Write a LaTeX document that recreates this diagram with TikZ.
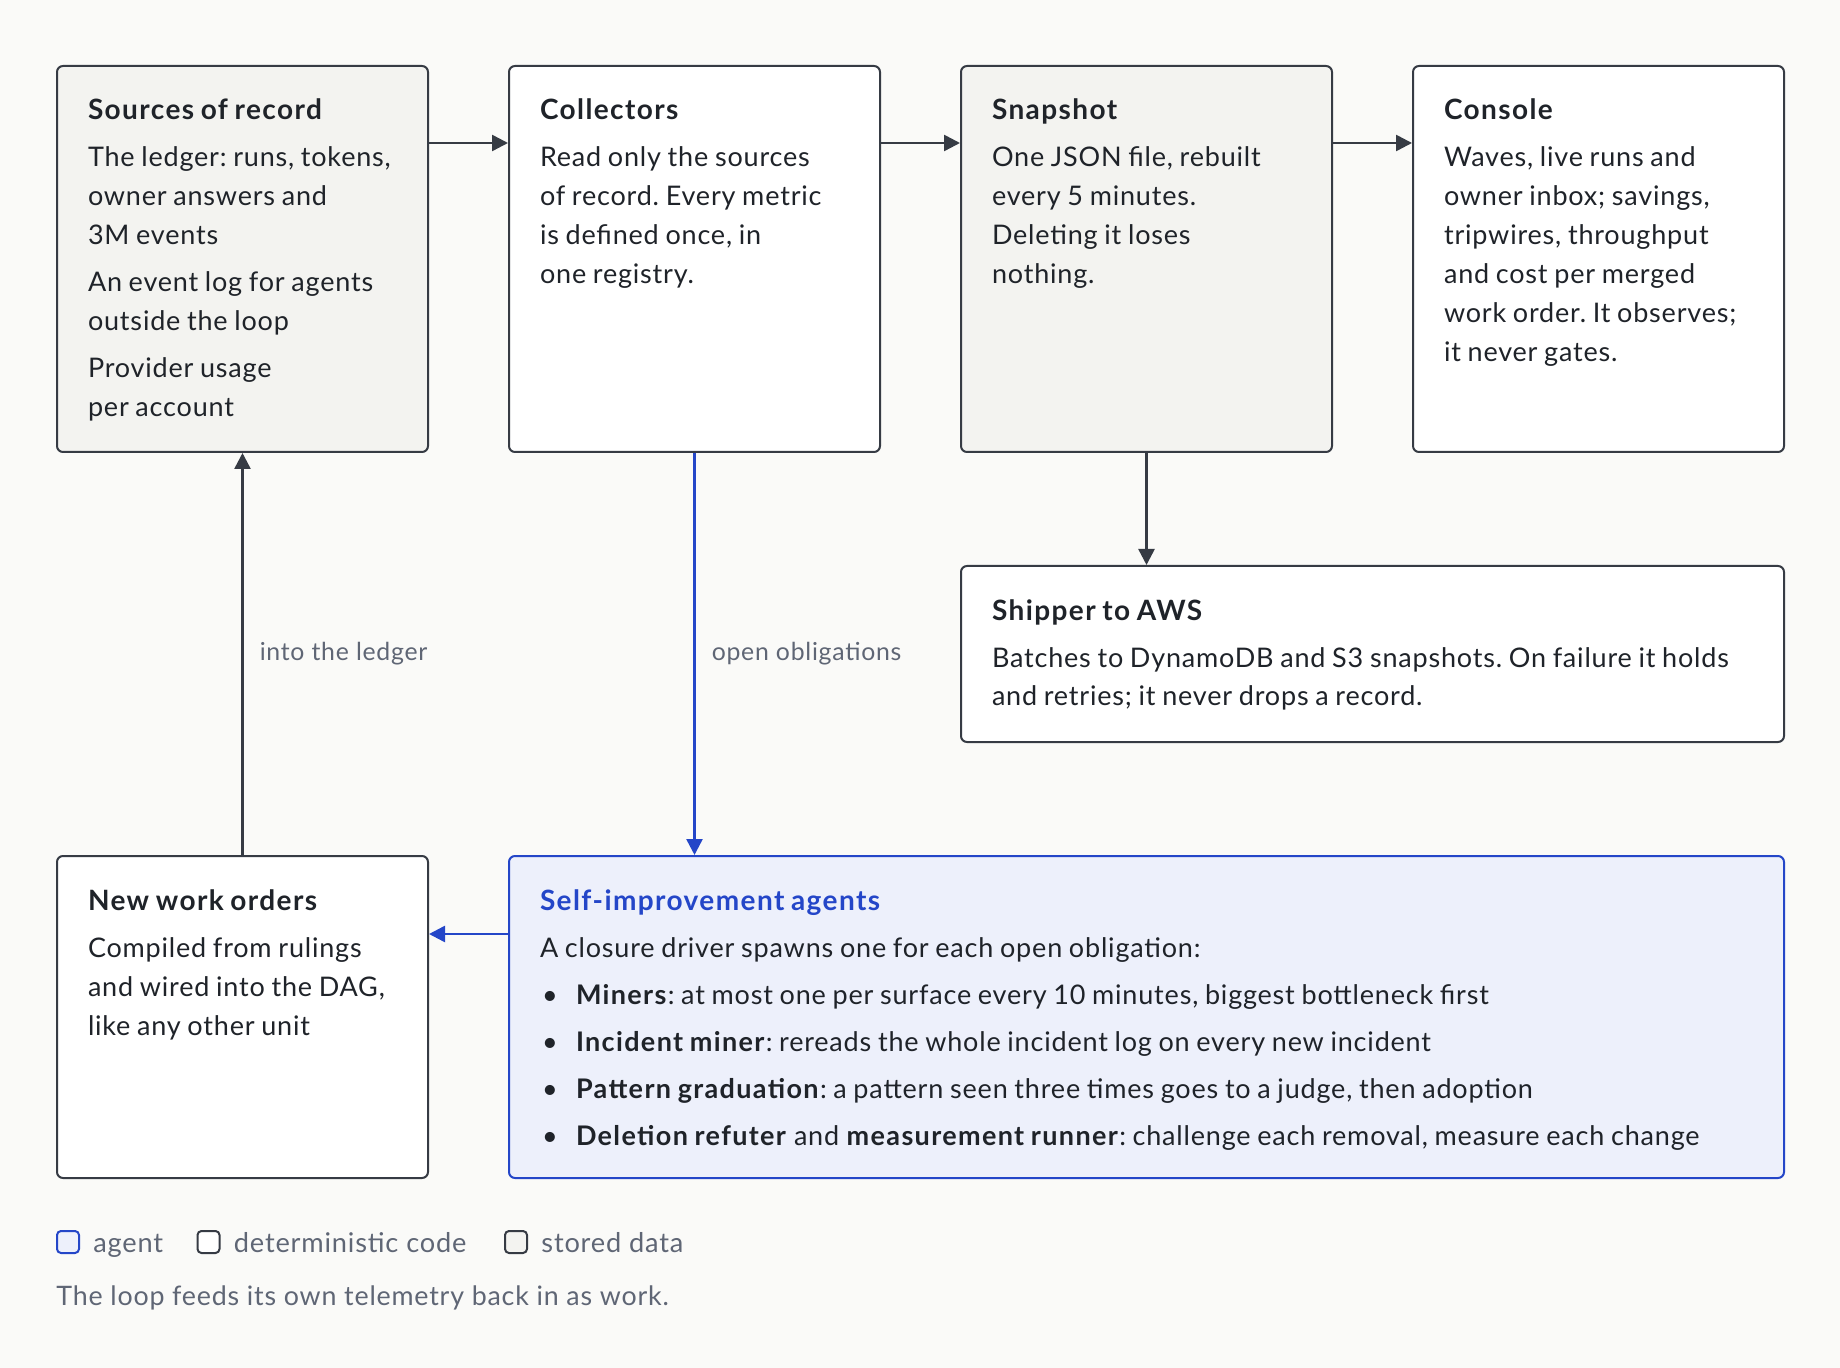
\documentclass[tikz,border=0pt]{standalone}
\usepackage{fontspec}
\setmainfont{Lato}[LetterSpace=3, BoldFeatures={LetterSpace=5}]
\usetikzlibrary{arrows.meta,positioning,calc}
\frenchspacing
\definecolor{paper}{HTML}{FAFAF8}
\definecolor{ink}{HTML}{1F2329}
\definecolor{edge}{HTML}{363B44}
\definecolor{stored}{HTML}{F3F3F0}
\definecolor{agentblue}{HTML}{2446C8}
\definecolor{agentfill}{HTML}{EDF0FB}
\definecolor{muted}{HTML}{5F6675}
\newcommand{\cardtext}[3]{\parbox[t][#1][t]{\linewidth}{\fontsize{13.5}{19.5}\selectfont
  \setlength{\parskip}{4pt}\rule{0pt}{27pt}{\fontsize{14}{19.5}\selectfont\textbf{#2}}\par #3}}
\newcommand{\dotline}{\par\makebox[18pt][l]{\hspace{1pt}\textbullet}}
\tikzset{
  card/.style={draw=edge, line width=1pt, rounded corners=3pt, fill=white, text=ink,
    anchor=north west, inner xsep=15.5pt, inner ysep=0pt, text width=#1},
  flow/.style={draw=edge, line width=1.25pt, -{Triangle[length=8pt,width=8pt]}},
  agentflow/.style={flow, draw=agentblue},
  flowlabel/.style={inner sep=0pt, text=muted, font=\fontsize{12.4}{14}\selectfont},
  legkey/.style={minimum size=11pt, inner sep=0pt, rounded corners=2pt, line width=1pt},
  legtext/.style={inner sep=0pt, text=muted, text height=12pt, text depth=2pt, font=\fontsize{13.6}{15}\selectfont}
}
\begin{document}
\begin{tikzpicture}[x=1pt,y=-1pt]
\fill[paper] (0,0) rectangle (920,684);
\useasboundingbox (0,0) rectangle (920,684);

\node[card=154.5pt, fill=stored] (src) at (28,32.5) {\cardtext{193pt}{Sources of record}{The ledger: runs, tokens,\\ owner answers and\\ 3M events\par An event log for agents\\ outside the loop\par Provider usage\\ per account}};
\node[card=154.5pt] (col) at (254,32.5) {\cardtext{193pt}{Collectors}{Read only the sources\\ of record. Every metric\\ is defined once, in\\ one registry.}};
\node[card=154.5pt, fill=stored] (snap) at (480,32.5) {\cardtext{193pt}{Snapshot}{One JSON file, rebuilt\\ every 5 minutes.\\ Deleting it loses\\ nothing.}};
\node[card=154.5pt] (con) at (706,32.5) {\cardtext{193pt}{Console}{Waves, live runs and\\ owner inbox; savings,\\ tripwires, throughput\\ and cost per merged\\ work order. It observes;\\ it never gates.}};
\node[card=380.5pt] (ship) at (480,282.5) {\cardtext{88pt}{Shipper to AWS}{Batches to DynamoDB and S3 snapshots. On failure it holds\\ and retries; it never drops a record.}};
\node[card=154.5pt] (nwo) at (28,427.5) {\cardtext{161pt}{New work orders}{Compiled from rulings\\ and wired into the DAG,\\ like any other unit}};
\node[card=606.5pt, draw=agentblue, fill=agentfill] (agt) at (254,427.5) {\cardtext{161pt}{\color{agentblue}Self-improvement agents}{A closure driver spawns one for each open obligation:
  \dotline\textbf{Miners}: at most one per surface every 10 minutes, biggest bottleneck first
  \dotline\textbf{Incident miner}: rereads the whole incident log on every new incident
  \dotline\textbf{Pattern graduation}: a pattern seen three times goes to a judge, then adoption
  \dotline\textbf{Deletion refuter} and \textbf{measurement runner}: challenge each removal, measure each change}};

\foreach \a/\b in {src/col,col/snap,snap/con}
  \draw[flow] ([yshift=-39pt]\a.north east) -- ([yshift=-39pt]\b.north west);
\draw[flow] (snap.south) -- (snap.south |- ship.north);
\draw[flow] (nwo.north) -- (src.south) node[midway, right=8pt, flowlabel] {into the ledger};
\draw[agentflow] (col.south) -- (col.south |- agt.north) node[midway, right=8pt, flowlabel] {open obligations};
\draw[agentflow] ([yshift=-39.5pt]agt.north west) -- ([yshift=-39.5pt]nwo.north east);

\node[legkey, draw=agentblue, fill=agentfill] (kagent) at (34,621) {};
\node[legtext, right=6.5pt of kagent] (tagent) {agent};
\node[legkey, draw=edge, fill=white] (kcode) at (104.25,621) {};
\node[legtext, right=6.5pt of kcode] (tcode) {deterministic code};
\node[legkey, draw=edge, fill=stored] (kdata) at (258,621) {};
\node[legtext, right=6.5pt of kdata] (tdata) {stored data};
\node[legtext, anchor=base west, font=\fontsize{13.4}{15}\selectfont] (note) at (28,652.5) {The loop feeds its own telemetry back in as work.};
\end{tikzpicture}
\end{document}
